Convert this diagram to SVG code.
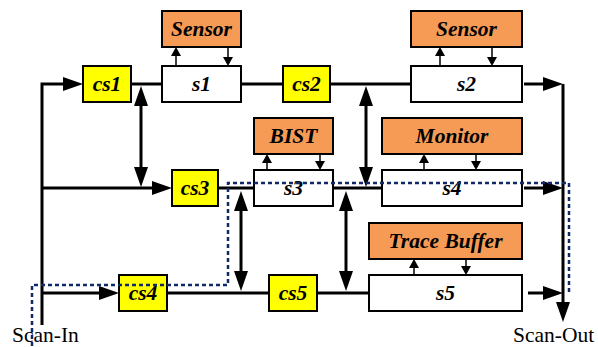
<svg xmlns="http://www.w3.org/2000/svg" width="598" height="347" viewBox="0 0 598 347">
  <style>
    .box { stroke: #000; stroke-width: 2; }
    .cs { fill: #FFFF00; }
    .st { fill: #FFFFFF; }
    .ip { fill: #F59B56; }
    .lbl { font-family: "Liberation Serif", "Times New Roman", serif; font-size: 21.5px; font-weight: bold; font-style: italic; text-anchor: middle; fill: #000; }
    .io { font-family: "Liberation Serif", "Times New Roman", serif; font-size: 21.5px; fill: #000; }
    .wire { stroke: #000; stroke-width: 3; fill: none; }
    .arr { marker-end: url(#ah); }
    .dbl { marker-start: url(#ah); marker-end: url(#ah); }
    .thin { stroke: #000; stroke-width: 1.5; fill: none; marker-end: url(#sh); }
    .path { stroke: #0F2A66; stroke-width: 2.5; stroke-dasharray: 4 3; fill: none; }
  </style>
  <defs>
    <marker id="ah" markerUnits="userSpaceOnUse" markerWidth="20" markerHeight="14" refX="1" refY="7" orient="auto-start-reverse">
      <path d="M0,0 L20,7 L0,14 z" fill="#000"/>
    </marker>
    <marker id="sh" markerUnits="userSpaceOnUse" markerWidth="9" markerHeight="10" refX="1" refY="5" orient="auto">
      <path d="M0,0 L9,5 L0,10 z" fill="#000"/>
    </marker>
  </defs>

  <!-- scan connections -->
  <g id="connectors">
    <path class="wire arr" d="M42,325 V84 H64"/>
    <line class="wire" x1="131" y1="84" x2="162" y2="84"/>
    <line class="wire" x1="241" y1="84" x2="283" y2="84"/>
    <line class="wire" x1="330" y1="84" x2="411" y2="84"/>
    <line class="wire arr" x1="524" y1="84" x2="544" y2="84"/>
    <path class="wire arr" d="M563,84 V303"/>

    <line class="wire arr" x1="42" y1="188" x2="153" y2="188"/>
    <line class="wire" x1="218" y1="188" x2="254" y2="188"/>
    <line class="wire" x1="333" y1="188" x2="382" y2="188"/>
    <line class="wire arr" x1="524" y1="188" x2="544" y2="188"/>

    <line class="wire arr" x1="42" y1="293" x2="100" y2="293"/>
    <line class="wire" x1="167" y1="293" x2="269" y2="293"/>
    <line class="wire" x1="317" y1="293" x2="369" y2="293"/>
    <line class="wire arr" x1="528" y1="293" x2="544" y2="293"/>

    <!-- bidirectional links between chains -->
    <line class="wire dbl" x1="141" y1="105" x2="141" y2="168"/>
    <line class="wire dbl" x1="366" y1="105" x2="366" y2="168"/>
    <line class="wire dbl" x1="241" y1="210" x2="241" y2="272"/>
    <line class="wire dbl" x1="346" y1="210" x2="346" y2="272"/>

    <!-- block to instrument links -->
    <line class="thin" x1="176" y1="66" x2="176" y2="55"/>
    <line class="thin" x1="228" y1="47" x2="228" y2="58"/>
    <line class="thin" x1="440" y1="66" x2="440" y2="55"/>
    <line class="thin" x1="492" y1="47" x2="492" y2="58"/>
    <line class="thin" x1="267" y1="170" x2="267" y2="162"/>
    <line class="thin" x1="320" y1="154" x2="320" y2="162"/>
    <line class="thin" x1="424" y1="170" x2="424" y2="162"/>
    <line class="thin" x1="476" y1="154" x2="476" y2="162"/>
    <line class="thin" x1="414" y1="275" x2="414" y2="267"/>
    <line class="thin" x1="466" y1="259" x2="466" y2="267"/>
  </g>

  <g id="cs1"><rect class="box cs" x="83" y="66" width="48" height="36"/><text class="lbl" x="107" y="91">cs1</text></g>
  <g id="s1"><rect class="box st" x="162" y="66" width="79" height="36"/><text class="lbl" x="201.5" y="91">s1</text></g>
  <g id="sensor1"><rect class="box ip" x="162" y="11" width="79" height="36"/><text class="lbl" x="201.5" y="36">Sensor</text></g>
  <g id="cs2"><rect class="box cs" x="283" y="66" width="47" height="36"/><text class="lbl" x="306.5" y="91">cs2</text></g>
  <g id="s2"><rect class="box st" x="411" y="66" width="111" height="36"/><text class="lbl" x="466.5" y="91">s2</text></g>
  <g id="sensor2"><rect class="box ip" x="411" y="11" width="111" height="36"/><text class="lbl" x="466.5" y="36">Sensor</text></g>

  <g id="cs3"><rect class="box cs" x="172" y="170" width="46" height="36"/><text class="lbl" x="195" y="195">cs3</text></g>
  <g id="s3"><rect class="box st" x="254" y="170" width="79" height="36"/><text class="lbl" x="293.5" y="195">s3</text></g>
  <g id="bist"><rect class="box ip" x="254" y="118" width="79" height="36"/><text class="lbl" x="293.5" y="143">BIST</text></g>
  <g id="s4"><rect class="box st" x="382" y="170" width="140" height="36"/><text class="lbl" x="452" y="195">s4</text></g>
  <g id="monitor"><rect class="box ip" x="382" y="118" width="140" height="36"/><text class="lbl" x="452" y="143">Monitor</text></g>

  <g id="cs4"><rect class="box cs" x="119" y="275" width="48" height="36"/><text class="lbl" x="143" y="300">cs4</text></g>
  <g id="cs5"><rect class="box cs" x="269" y="275" width="48" height="36"/><text class="lbl" x="293" y="300">cs5</text></g>
  <g id="s5"><rect class="box st" x="369" y="275" width="153" height="36"/><text class="lbl" x="445.5" y="300">s5</text></g>
  <g id="trace-buffer"><rect class="box ip" x="369" y="223" width="153" height="36"/><text class="lbl" x="445.5" y="248">Trace Buffer</text></g>

  <!-- configured scan path -->
  <path class="path" d="M32,346 V285 H228 V183 H569 V294"/>

  <text class="io" x="12" y="342">Scan-In</text>
  <text class="io" x="513" y="342">Scan-Out</text>
</svg>
